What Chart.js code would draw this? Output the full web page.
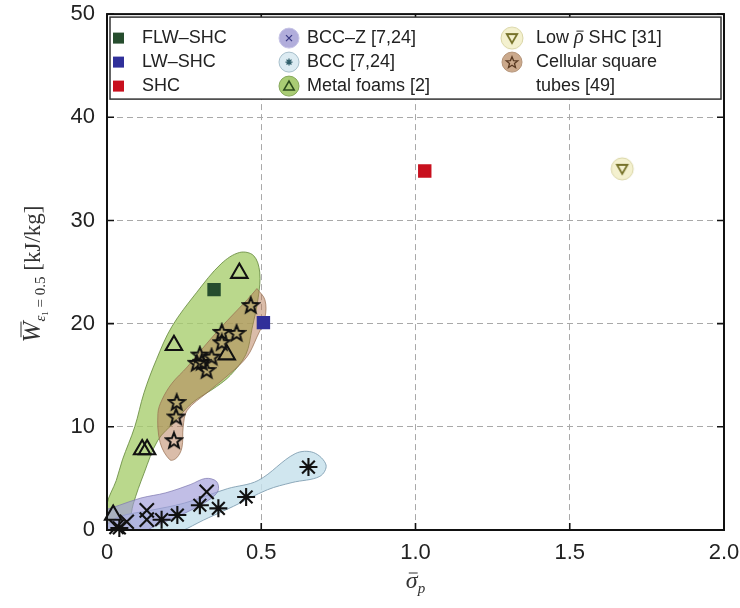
<!DOCTYPE html>
<html>
<head>
<meta charset="utf-8">
<script src="https://cdn.jsdelivr.net/npm/chart.js@4.4.0/dist/chart.umd.min.js"></script>
<style>
  html, body { margin: 0; padding: 0; background: #fff; }
  #wrap { width: 740px; height: 608px; }
</style>
</head>
<body>
<div id="wrap"><canvas id="chart" width="740" height="608"></canvas></div>
<script>
// axis tick labels
const xTickLabels = ['0', '0.5', '1.0', '1.5', '2.0'];
const yTickLabels = ['0', '10', '20', '30', '40', '50'];

// single specimens (squares)
const flwX = [0.347], flwY = [23.3];
const lwX = [0.507], lwY = [20.1];
const shcX = [1.03], shcY = [34.8];
const lowRhoX = [1.67], lowRhoY = [35.0];

// literature data
const foamX = [0.020, 0.114, 0.130, 0.217, 0.388, 0.429];
const foamY = [1.45, 7.8, 7.8, 17.9, 17.0, 24.9];
const tubeX = [0.217, 0.224, 0.226, 0.291, 0.301, 0.307, 0.323, 0.339, 0.372, 0.372, 0.420, 0.466];
const tubeY = [8.7, 11.0, 12.4, 16.2, 17.0, 16.3, 15.5, 16.8, 18.2, 19.2, 19.1, 21.8];
const bccZX = [0.031, 0.064, 0.129, 0.129, 0.323];
const bccZY = [0.3, 0.8, 1.0, 1.9, 3.7];
const bccX = [0.040, 0.177, 0.228, 0.301, 0.361, 0.451, 0.653];
const bccY = [0.2, 1.0, 1.45, 2.4, 2.1, 3.2, 6.1];

// shaded envelopes around each family (data units)
const foamRegionX = [0, 0, 0.03, 0.05, 0.09, 0.12, 0.16, 0.21, 0.29, 0.37, 0.43, 0.475, 0.495, 0.49, 0.47, 0.45, 0.40, 0.355, 0.275, 0.22, 0.165, 0.12, 0.085, 0.06, 0];
const foamRegionY = [-0.5, 2.5, 4.8, 6.8, 10, 13.3, 16.5, 19.7, 23, 25.8, 26.9, 26.6, 25, 22.5, 19.5, 17, 15, 13.9, 12.3, 10.5, 8.7, 5.5, 2.5, -0.5, -0.5];
const tubeRegionX = [0.486, 0.512, 0.512, 0.486, 0.454, 0.40, 0.324, 0.26, 0.247, 0.243, 0.226, 0.204, 0.172, 0.165, 0.178, 0.21, 0.26, 0.324, 0.39, 0.454, 0.486];
const tubeRegionY = [23.4, 22.3, 20.6, 18.7, 16.8, 15.2, 13.3, 11.6, 10.0, 8.0, 7.0, 6.8, 8.5, 11.3, 12.6, 14.2, 15.8, 18.1, 20.3, 22.3, 23.4];
const bccRegionX = [0, 0.04, 0.14, 0.25, 0.39, 0.49, 0.61, 0.67, 0.71, 0.69, 0.60, 0.52, 0.41, 0.33, 0.19, 0, 0];
const bccRegionY = [0.5, 1.3, 1.9, 2.6, 4.0, 4.8, 7.4, 7.5, 6.3, 5.2, 4.6, 3.9, 2.3, 1.2, -0.6, -0.6, 0.5];
const bccZRegionX = [0, 0.04, 0.11, 0.19, 0.27, 0.32, 0.355, 0.36, 0.33, 0.25, 0.15, 0.09, 0, 0];
const bccZRegionY = [2.0, 2.4, 3.1, 3.6, 4.4, 5.0, 4.7, 3.8, 2.9, 1.6, 0.3, -0.6, -0.6, 2.0];

const SANS = "'Liberation Sans', Arial, sans-serif";
const SERIF = "'Liberation Serif', 'Times New Roman', serif";

function pts(xs, ys) {
  return xs.map((x, i) => ({ x: x, y: ys[i] }));
}

function starPath(g, cx, cy, outer, inner) {
  g.beginPath();
  for (let i = 0; i < 10; i++) {
    const r = i % 2 ? inner : outer;
    const a = -Math.PI / 2 + i * Math.PI / 5;
    g.lineTo(cx + r * Math.cos(a), cy + r * Math.sin(a));
  }
  g.closePath();
}

function downTriangle(g, cx, cy, r) {
  g.beginPath();
  g.moveTo(cx - r * 0.87, cy - r * 0.5);
  g.lineTo(cx + r * 0.87, cy - r * 0.5);
  g.lineTo(cx, cy + r);
  g.closePath();
}

function upTriangle(g, cx, cy, r) {
  g.beginPath();
  g.moveTo(cx - r * 0.87, cy + r * 0.5);
  g.lineTo(cx + r * 0.87, cy + r * 0.5);
  g.lineTo(cx, cy - r);
  g.closePath();
}

// five pointed hollow star used for the square tubes
const starImg = document.createElement('canvas');
starImg.width = 20; starImg.height = 20;
(function () {
  const g = starImg.getContext('2d');
  starPath(g, 10, 10.7, 8.2, 3.5);
  g.strokeStyle = '#111';
  g.lineWidth = 2;
  g.stroke();
})();

// low density SHC marker: pale disc with down triangle
const lowRhoImg = document.createElement('canvas');
lowRhoImg.width = 26; lowRhoImg.height = 26;
(function () {
  const g = lowRhoImg.getContext('2d');
  g.beginPath();
  g.arc(13, 13, 11, 0, Math.PI * 2);
  g.fillStyle = '#f4f1cf';
  g.fill();
  g.strokeStyle = '#d9d5a6';
  g.lineWidth = 1;
  g.stroke();
  downTriangle(g, 13, 12, 6);
  g.strokeStyle = '#77732a';
  g.lineWidth = 1.8;
  g.stroke();
})();

function region(label, xs, ys, fill, edge, order) {
  return {
    type: 'line', label: label, data: pts(xs, ys),
    showLine: true, fill: 'shape', backgroundColor: fill,
    borderColor: edge, borderWidth: 1, pointRadius: 0,
    tension: 0.35, order: order
  };
}

function markers(label, xs, ys, style, radius, color, fill, order) {
  return {
    type: 'scatter', label: label, data: pts(xs, ys),
    pointStyle: style, pointRadius: radius, pointHoverRadius: radius,
    borderColor: color, backgroundColor: fill, pointBorderWidth: 2.1,
    borderWidth: 2.1, clip: false, order: order
  };
}

function italicBar(ctx, text, x, y, font, barY) {
  ctx.font = font;
  const w = ctx.measureText(text).width;
  ctx.fillText(text, x, y);
  ctx.beginPath();
  ctx.moveTo(x + w * 0.25, y - barY);
  ctx.lineTo(x + w * 1.0, y - barY);
  ctx.stroke();
  return w;
}

const decorPlugin = {
  id: 'decor',
  afterDatasetsDraw(chart) {
    const { ctx, chartArea: a, scales } = chart;
    ctx.save();
    ctx.strokeStyle = '#111';
    ctx.lineWidth = 2;
    ctx.strokeRect(a.left, a.top, a.right - a.left, a.bottom - a.top);
    ctx.lineWidth = 1.6;
    ctx.beginPath();
    scales.x.ticks.forEach(t => {
      const px = scales.x.getPixelForValue(t.value);
      ctx.moveTo(px, a.bottom); ctx.lineTo(px, a.bottom - 7);
      ctx.moveTo(px, a.top); ctx.lineTo(px, a.top + 7);
    });
    scales.y.ticks.forEach(t => {
      const py = scales.y.getPixelForValue(t.value);
      ctx.moveTo(a.left, py); ctx.lineTo(a.left + 7, py);
      ctx.moveTo(a.right, py); ctx.lineTo(a.right - 7, py);
    });
    ctx.stroke();
    ctx.restore();
  },
  afterDraw(chart) {
    const { ctx, chartArea: a } = chart;
    ctx.save();

    // legend box
    const lx = a.left + 3, ly = a.top + 3, lw = a.right - a.left - 6, lh = 82;
    ctx.fillStyle = '#fff';
    ctx.fillRect(lx, ly, lw, lh);
    ctx.strokeStyle = '#333';
    ctx.lineWidth = 1.5;
    ctx.strokeRect(lx, ly, lw, lh);

    const rows = [ly + 21, ly + 45, ly + 69];
    ctx.font = '18px ' + SANS;
    ctx.textBaseline = 'middle';
    ctx.textAlign = 'left';

    // column 1: squares
    const c1 = [['FLW–SHC', '#264d2e'], ['LW–SHC', '#30309a'], ['SHC', '#c8101e']];
    c1.forEach((e, i) => {
      ctx.fillStyle = e[1];
      ctx.fillRect(lx + 3, rows[i] - 5.5, 11, 11);
      ctx.fillStyle = '#222';
      ctx.fillText(e[0], lx + 32, rows[i]);
    });

    // column 2: discs with symbols
    const cx2 = lx + 179;
    const disc = (cx, cy, fill, edge) => {
      ctx.beginPath();
      ctx.arc(cx, cy, 10, 0, Math.PI * 2);
      ctx.fillStyle = fill; ctx.fill();
      ctx.strokeStyle = edge; ctx.lineWidth = 1; ctx.stroke();
    };
    disc(cx2, rows[0], '#b1addb', '#c6c3e6');
    ctx.strokeStyle = '#3b3b86'; ctx.lineWidth = 1.3;
    ctx.beginPath();
    ctx.moveTo(cx2 - 3, rows[0] - 3); ctx.lineTo(cx2 + 3, rows[0] + 3);
    ctx.moveTo(cx2 + 3, rows[0] - 3); ctx.lineTo(cx2 - 3, rows[0] + 3);
    ctx.stroke();
    disc(cx2, rows[1], '#dcebf2', '#a8c0cc');
    ctx.strokeStyle = '#2f5e6a'; ctx.lineWidth = 1.3;
    ctx.beginPath();
    for (let k = 0; k < 4; k++) {
      const ang = k * Math.PI / 4;
      ctx.moveTo(cx2 - 3.5 * Math.cos(ang), rows[1] - 3.5 * Math.sin(ang));
      ctx.lineTo(cx2 + 3.5 * Math.cos(ang), rows[1] + 3.5 * Math.sin(ang));
    }
    ctx.stroke();
    disc(cx2, rows[2], '#a9cc74', '#86a85a');
    upTriangle(ctx, cx2, rows[2] + 1, 6);
    ctx.strokeStyle = '#2b4a1c'; ctx.lineWidth = 1.5; ctx.stroke();

    ctx.fillStyle = '#222';
    ctx.font = '18px ' + SANS;
    ctx.fillText('BCC–Z [7,24]', lx + 197, rows[0]);
    ctx.fillText('BCC [7,24]', lx + 197, rows[1]);
    ctx.fillText('Metal foams [2]', lx + 197, rows[2]);

    // column 3
    const cx3 = lx + 402;
    ctx.drawImage(lowRhoImg, cx3 - 13, rows[0] - 13);
    disc(cx3, rows[1], '#cba98c', '#b5957a');
    starPath(ctx, cx3, rows[1] + 0.6, 6, 2.6);
    ctx.strokeStyle = '#5a3a22'; ctx.lineWidth = 1.3; ctx.stroke();

    let tx = lx + 426;
    ctx.fillStyle = '#222';
    ctx.font = '18px ' + SANS;
    ctx.fillText('Low ', tx, rows[0]);
    tx += ctx.measureText('Low ').width;
    ctx.textBaseline = 'alphabetic';
    ctx.strokeStyle = '#222'; ctx.lineWidth = 1;
    tx += italicBar(ctx, 'ρ', tx, rows[0] + 5, 'italic 20px ' + SERIF, 12);
    ctx.textBaseline = 'middle';
    ctx.font = '18px ' + SANS;
    ctx.fillText(' SHC [31]', tx, rows[0]);
    ctx.fillText('Cellular square', lx + 426, rows[1]);
    ctx.fillText('tubes [49]', lx + 426, rows[2]);

    // x axis title
    ctx.textBaseline = 'alphabetic';
    ctx.fillStyle = '#333';
    ctx.strokeStyle = '#333';
    ctx.font = 'italic 24px ' + SERIF;
    const ws = ctx.measureText('σ').width;
    ctx.font = 'italic 15px ' + SERIF;
    const wp = ctx.measureText('p').width;
    let xx = (a.left + a.right) / 2 - (ws + wp) / 2;
    const xb = 588;
    ctx.lineWidth = 1;
    italicBar(ctx, 'σ', xx, xb, 'italic 24px ' + SERIF, 15);
    ctx.font = 'italic 15px ' + SERIF;
    ctx.fillText('p', xx + ws, xb + 5);

    // y axis title
    ctx.save();
    ctx.translate(40, 274);
    ctx.rotate(-Math.PI / 2);
    const parts = [
      ['W', 'italic 25px ' + SERIF, 0],
      ['ε', 'italic 15px ' + SERIF, 5],
      ['1', '9px ' + SERIF, 8],
      [' = 0.5', '15px ' + SERIF, 5],
      [' [kJ/kg]', '23px ' + SERIF, 0]
    ];
    let total = 0;
    parts.forEach(p => { ctx.font = p[1]; total += ctx.measureText(p[0]).width; });
    let px = -total / 2;
    parts.forEach((p, i) => {
      if (i === 0) {
        px += italicBar(ctx, p[0], px, p[2], p[1], 19);
      } else {
        ctx.font = p[1];
        ctx.fillText(p[0], px, p[2]);
        px += ctx.measureText(p[0]).width;
      }
    });
    ctx.restore();

    ctx.restore();
  }
};

Chart.defaults.font.family = SANS;
Chart.defaults.color = '#222';

new Chart(document.getElementById('chart'), {
  type: 'scatter',
  data: {
    datasets: [
      region('Metal foams region', foamRegionX, foamRegionY, 'rgba(166,205,108,0.78)', 'rgba(105,140,65,0.85)', 20),
      region('Cellular region', tubeRegionX, tubeRegionY, 'rgba(182,122,84,0.5)', 'rgba(150,110,80,0.7)', 19),
      region('BCC region', bccRegionX, bccRegionY, 'rgba(198,224,236,0.82)', 'rgba(130,160,178,0.9)', 18),
      region('BCC-Z region', bccZRegionX, bccZRegionY, 'rgba(160,155,216,0.65)', 'rgba(125,120,175,0.7)', 17),
      markers('Metal foams [2]', foamX, foamY, 'triangle', 9.5, '#111', 'rgba(0,0,0,0)', 5),
      markers('Cellular square tubes [49]', tubeX, tubeY, starImg, 10, '#111', 'rgba(0,0,0,0)', 5),
      markers('BCC-Z [7,24]', bccZX, bccZY, 'crossRot', 10, '#111', 'rgba(0,0,0,0)', 5),
      markers('BCC [7,24]', bccX, bccY, 'star', 9, '#111', 'rgba(0,0,0,0)', 5),
      markers('FLW-SHC', flwX, flwY, 'rect', 8, '#264d2e', '#264d2e', 2),
      markers('LW-SHC', lwX, lwY, 'rect', 8, '#30309a', '#30309a', 2),
      markers('SHC', shcX, shcY, 'rect', 8, '#c8101e', '#c8101e', 2),
      markers('Low rho SHC [31]', lowRhoX, lowRhoY, lowRhoImg, 12, '#77732a', 'rgba(0,0,0,0)', 2)
    ]
  },
  options: {
    responsive: false,
    devicePixelRatio: 1,
    animation: false,
    layout: { padding: { top: 14, right: 16, bottom: 0, left: 0 } },
    plugins: { legend: { display: false }, tooltip: { enabled: false } },
    scales: {
      x: {
        type: 'linear', min: 0, max: 2,
        ticks: { stepSize: 0.5, padding: 10, color: '#222', font: { size: 22 },
          callback: (v, i) => xTickLabels[i] },
        grid: { color: '#a9a9a9', lineWidth: 1, drawTicks: false },
        border: { display: false, dash: [6, 4] },
        afterFit: s => { s.height = 78; s.paddingLeft = 0; s.paddingRight = 0; }
      },
      y: {
        type: 'linear', min: 0, max: 50,
        ticks: { stepSize: 10, padding: 12, color: '#222', font: { size: 22 },
          callback: (v, i) => yTickLabels[i] },
        grid: { color: '#a9a9a9', lineWidth: 1, drawTicks: false },
        border: { display: false, dash: [6, 4] },
        afterFit: s => { s.width = 107; s.paddingTop = 0; s.paddingBottom = 0; }
      }
    }
  },
  plugins: [decorPlugin]
});
</script>
</body>
</html>
